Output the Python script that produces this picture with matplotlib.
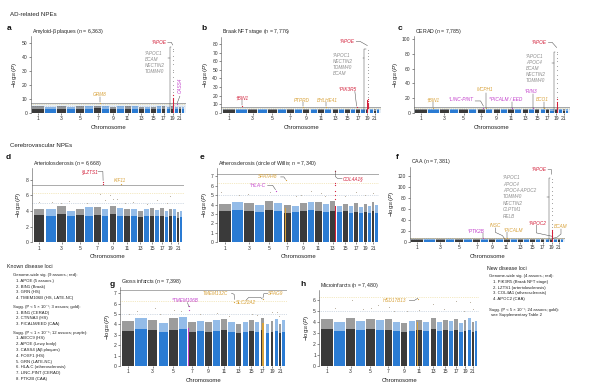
import numpy as np
import matplotlib.pyplot as plt

plt.rcParams['font.family'] = ['Liberation Sans', 'DejaVu Sans']
plt.rcParams['mathtext.fontset'] = 'custom'
plt.rcParams['mathtext.rm'] = 'Liberation Sans'
plt.rcParams['mathtext.it'] = 'Liberation Sans:italic'

W, H = 607, 384

# chromosome lengths (Mb), chr1..chr22
chrom_len = [249, 243, 198, 191, 181, 171, 159, 146, 141, 136, 135, 134,
             115, 107, 103, 90, 81, 78, 59, 63, 48, 51]
GAP = 25
starts = np.cumsum([0] + [l + GAP for l in chrom_len[:-1]])
centers = starts + np.array(chrom_len) / 2

# dense background of each chromosome: solid core and lighter fringe (-log10 P)
a_core = [3.2, 3.0, 3.1, 3.0, 3.2, 3.1, 3.3, 3.0, 3.1, 3.2, 3.0, 3.1, 3.0, 2.9, 3.0, 3.1, 3.0, 2.9, 3.0, 3.1, 2.8, 2.9]
a_fuzz = [4.8, 4.6, 4.9, 4.5, 5.0, 4.8, 5.2, 4.7, 4.6, 4.9, 4.7, 4.8, 4.5, 4.4, 4.6, 4.7, 4.9, 4.3, 5.0, 4.6, 4.2, 4.4]
b_core = [3.3, 3.2, 3.1, 3.2, 3.0, 3.3, 3.1, 3.2, 3.0, 3.1, 3.2, 3.1, 2.9, 3.0, 3.1, 3.0, 3.2, 2.9, 3.1, 3.0, 2.8, 2.9]
b_fuzz = [5.0, 5.2, 4.8, 4.9, 4.7, 5.1, 4.8, 4.9, 5.0, 4.7, 4.9, 5.1, 4.5, 4.6, 4.7, 4.5, 5.0, 4.4, 4.8, 4.6, 4.3, 4.4]
c_core = [3.2, 3.1, 3.3, 3.0, 3.1, 3.2, 3.2, 3.1, 3.0, 3.0, 3.3, 3.1, 3.0, 3.1, 3.0, 3.1, 3.0, 2.9, 3.1, 3.0, 2.9, 2.8]
c_fuzz = [5.1, 5.3, 4.9, 4.8, 5.0, 4.9, 5.4, 5.0, 4.8, 4.7, 5.2, 4.9, 4.6, 5.0, 4.7, 5.1, 4.8, 4.5, 4.9, 4.6, 4.4, 4.5]
d_core = [3.5, 3.4, 3.6, 3.3, 3.5, 3.4, 3.5, 3.4, 3.6, 3.4, 3.3, 3.4, 3.2, 3.3, 3.4, 3.3, 3.4, 3.2, 3.3, 3.3, 3.1, 3.2]
d_fuzz = [4.3, 4.2, 4.6, 4.0, 4.3, 4.5, 4.5, 4.3, 4.7, 4.4, 4.2, 4.3, 4.0, 4.2, 4.4, 4.1, 4.4, 4.0, 4.3, 4.2, 3.9, 4.0]
e_core = [3.3, 3.4, 3.3, 3.2, 3.4, 3.3, 3.1, 3.2, 3.3, 3.4, 3.3, 3.2, 3.3, 3.2, 3.3, 3.1, 3.2, 3.1, 3.2, 3.1, 3.3, 3.1]
e_fuzz = [4.1, 4.3, 4.2, 4.0, 4.4, 4.2, 4.0, 3.9, 4.2, 4.3, 4.3, 4.1, 4.4, 3.9, 4.1, 3.9, 4.2, 3.8, 4.1, 3.9, 4.3, 4.0]
f_core = [3.0, 2.9, 3.1, 2.8, 3.0, 2.9, 3.0, 3.0, 2.8, 2.9, 3.1, 3.0, 2.8, 2.9, 3.0, 2.8, 3.0, 2.7, 2.9, 2.8, 2.7, 2.8]
f_fuzz = [5.0, 4.8, 5.1, 4.6, 4.9, 4.8, 5.2, 5.0, 4.7, 4.8, 5.3, 5.0, 4.6, 4.8, 5.0, 4.7, 4.9, 4.5, 4.8, 4.6, 4.4, 4.5]
g_core = [3.4, 3.6, 3.5, 3.3, 3.5, 3.6, 3.3, 3.4, 3.3, 3.4, 3.5, 3.3, 3.2, 3.3, 3.4, 3.3, 3.5, 3.2, 3.3, 3.4, 3.2, 3.3]
g_fuzz = [4.3, 4.6, 4.4, 4.1, 4.6, 4.7, 4.2, 4.3, 4.2, 4.4, 4.5, 4.2, 4.0, 4.2, 4.4, 4.2, 4.6, 4.0, 4.3, 4.5, 4.0, 4.4]
h_core = [3.4, 3.2, 3.4, 3.3, 3.4, 3.3, 3.3, 3.2, 3.1, 3.2, 3.3, 3.2, 3.4, 3.2, 3.3, 3.2, 3.3, 3.1, 3.2, 3.3, 3.1, 3.2]
h_fuzz = [4.3, 4.0, 4.4, 4.1, 4.3, 4.2, 4.3, 4.0, 3.9, 4.1, 4.2, 4.0, 4.4, 4.0, 4.2, 4.1, 4.3, 3.9, 4.2, 4.4, 4.0, 4.1]

# stray SNPs above the dense part: (chromosome, position Mb, -log10 P)
d_pts = [(1, 120, 5.2), (2, 150, 5.1), (3, 90, 5.0), (4, 50, 5.3), (6, 30, 5.0), (7, 130, 6.2),
         (8, 60, 5.4), (9, 20, 6.0), (9, 90, 5.5), (10, 10, 5.6), (11, 30, 5.0), (12, 60, 5.2),
         (14, 70, 4.9), (16, 50, 5.4), (18, 40, 5.0), (19, 20, 5.9)]
e_pts = [(1, 40, 5.3), (2, 150, 5.0), (3, 70, 5.1), (5, 120, 5.4), (8, 90, 4.9), (9, 30, 5.0),
         (10, 60, 5.5), (11, 120, 5.2), (12, 40, 4.9), (15, 40, 4.9), (17, 40, 5.3), (19, 30, 5.0),
         (21, 20, 5.2)]
g_pts = [(1, 150, 5.0), (2, 40, 5.3), (3, 150, 5.6), (4, 30, 5.0), (5, 100, 5.4), (6, 40, 5.3),
         (8, 60, 5.0), (10, 90, 5.1), (12, 20, 4.8), (15, 60, 5.0), (16, 30, 4.9), (19, 20, 5.2),
         (20, 40, 5.2), (21, 10, 4.8)]
h_pts = [(2, 20, 5.3), (3, 120, 6.0), (4, 150, 5.2), (5, 100, 5.3), (6, 40, 5.5), (7, 90, 5.4),
         (8, 20, 5.0), (9, 130, 5.0), (11, 60, 5.1), (13, 60, 5.6), (15, 30, 5.2), (17, 50, 5.9),
         (19, 10, 5.0), (20, 60, 5.8), (21, 20, 5.2)]

# APOE region on chr19 (45 Mb): grey = neighbouring genes, red = APOE
a_apoe_grey = [45.5, 44, 41, 38, 35, 31, 29, 26, 23, 20, 17, 15]
a_apoe_red = [13, 11, 10, 9, 8, 7, 6.5, 6, 5.5]
b_apoe_grey = [73, 70, 66, 62, 57, 53, 50, 46, 42, 38, 34, 30, 26, 22, 18]
b_apoe_red = [16, 14, 12, 10, 9, 8, 7, 6]
c_apoe_grey = [83, 80, 75, 70, 64, 58, 52, 46, 40, 34, 28, 22]
c_apoe_red = [18, 15, 12, 10, 8, 7, 6]
f_apoe_grey = [114, 108, 100, 92, 85, 78, 70, 62, 55, 48, 40, 33, 26]
f_apoe_red = [22, 18, 15, 12, 10, 8, 6]

known_gw = ['APOE (5 assocs.)', 'BIN1 (Braak)', 'GRN (HS)', 'TMEM106B (HS, LATE-NC)']
known_gold = ['BIN1 (CERAD)', 'CTNNA3 (HS)', 'PICALM/EED (CAA)']
known_purple = ['ABCC9 (HS)', 'APOE (Lewy body)', 'CASS4 (Aβ plaques)', 'FOXF1 (HS)',
                'GRN (LATE-NC)', 'HLA-C (atherosclerosis)', 'LINC-PINT (CERAD)', 'PTK2B (CAA)']
new_gw = ['PIK3R5 (Braak NFT stage)', 'LZTS1 (arteriolosclerosis)',
          'COL4A1 (atherosclerosis)', 'APOC2 (CAA)']

DARK = '#3a3a3a'
BLUE = '#2a7bd3'
RED = '#d3223c'
GOLD = '#d8a23a'
PURPLE = '#c23fcb'
GREYTXT = '#8c8c8c'
LINE = '#4a4a4a'


def gx(ch, pos):
    return starts[ch - 1] + pos


def fig_box(l, t, r, b):
    return [l / W, 1 - b / H, (r - l) / W, (b - t) / H]


def ftext(x, y, s, **kw):
    fig.text(x / W, 1 - y / H, s, **kw)


def manhattan(box, core, fuzz, ylim, yticks, title, band=False, pts=()):
    ax = fig.add_axes(fig_box(*box))
    cols = [DARK if i % 2 == 0 else BLUE for i in range(22)]
    if band:
        ax.axhspan(0, 7.3, color='#e9eff5', lw=0, zorder=0)
    ax.bar(centers, fuzz, width=chrom_len, color=cols, alpha=0.5, linewidth=0, zorder=2)
    ax.bar(centers, core, width=chrom_len, color=cols, linewidth=0, zorder=2)
    ax.axhline(7.3, color='#8a8a8a', lw=0.5, zorder=1)
    ax.axhline(6.3, color='#e9d58a', lw=0.5, ls=':', zorder=1)
    ax.axhline(5.0, color='#a9b9cc', lw=0.5, ls=':', zorder=1)
    if pts:
        ax.scatter([gx(c, p) for c, p, v in pts], [v for c, p, v in pts],
                   s=0.5, color='#b9b0a0', lw=0, zorder=3)
    ax.set_xlim(-40, 3440)
    ax.set_ylim(*ylim)
    ax.set_yticks(yticks)
    ax.set_xticks(centers[::2])
    ax.set_xticklabels([str(i) for i in range(1, 23, 2)])
    for s in ['top', 'right', 'bottom']:
        ax.spines[s].set_visible(False)
    ax.spines['left'].set_linewidth(0.4)
    ax.spines['left'].set_color('#555555')
    ax.tick_params(labelsize=3.6, length=1.5, width=0.4, pad=1, colors='#333333')
    ax.set_xlabel('Chromosome', fontsize=4.3, labelpad=2.5, color='#222222')
    ax.set_ylabel(r'$-$log$_{10}$($P$)', fontsize=4.3, labelpad=1.5, color='#222222')
    ftext(box[0] + 1, box[1] - 5, title, fontsize=3.8, va='center', ha='left', color='#222222')
    return ax


def locus(ax, ch, pos, height, color, width=30):
    ax.bar([gx(ch, pos)], [height], width=width, color=color, linewidth=0, zorder=3)


def hits(ax, ch, pos, vals, color, s=0.8):
    ax.scatter([gx(ch, pos)] * len(vals), vals, s=s, color=color, lw=0, zorder=4)


def gene(ax, x, y, s, color, ha='center', va='center', rot=0, fs=3.4):
    ax.text(x, y, s, color=color, fontsize=fs, style='italic', ha=ha, va=va,
            rotation=rot, zorder=5)


def path(ax, xs, ys):
    ax.plot(xs, ys, color=LINE, lw=0.35, zorder=5)


def apoe_block(ax, grey, red, top_y, lab_x, lab_y, list_x, list_y, genes, tick_y, bar_h, ls=1.25):
    x19 = gx(19, 45)
    locus(ax, 19, 45, bar_h, RED, width=25)
    hits(ax, 19, 45, grey, '#9a9a9a', s=0.6)
    hits(ax, 19, 45, red, RED, s=0.8)
    bx = x19 - 75
    path(ax, [bx + 35, bx, bx], [top_y, top_y, 1.0])
    path(ax, [bx - 35, bx], [tick_y, tick_y])
    gene(ax, lab_x, lab_y, '*APOE', RED, ha='right')
    path(ax, [lab_x + 30, lab_x + 110, x19 - 10], [lab_y, lab_y, top_y + (lab_y - top_y) * 0.45])
    ax.text(list_x, list_y, genes, color=GREYTXT, fontsize=3.3, style='italic',
            ha='left', va='top', linespacing=ls, zorder=5)


fig = plt.figure(figsize=(W / 100, H / 100), dpi=100)

# section headers and panel letters
ftext(10, 15, 'AD-related NPEs', fontsize=4.4, va='center', color='#222222')
ftext(10, 145, 'Cerebrovascular NPEs', fontsize=4.4, va='center', color='#222222')
for letter, x, y in [('a', 7, 29), ('b', 201, 29), ('c', 398, 29), ('d', 6, 157),
                     ('e', 200, 157), ('f', 396, 157), ('g', 110, 284), ('h', 300, 284)]:
    ftext(x, y, letter, fontsize=6, fontweight='bold', va='center', color='#111111')

# a: amyloid-beta plaques
ax = manhattan((30.7, 36, 186, 113), a_core, a_fuzz, (0, 55), range(0, 51, 10),
               'Amyloid-β plaques ($n$ = 6,363)', band=True)
apoe_block(ax, a_apoe_grey, a_apoe_red, 47, 3000, 50.5, 2510, 44,
           '*APOC1\nBCAM\nNECTIN2\nTOMM40', 39, 9)
hits(ax, 7, 126, [7.5], GOLD)
gene(ax, gx(7, 126), 13.5, 'GRM8', GOLD)
path(ax, [gx(7, 126)] * 2, [11.5, 8])
hits(ax, 20, 50, [6.5], PURPLE)
gene(ax, gx(20, 50) + 75, 20, 'CASS4', PURPLE, rot=90)
path(ax, [gx(20, 50), gx(20, 50) + 60], [7, 12])

# b: Braak NFT stage
ax = manhattan((221.4, 37, 381, 113), b_core, b_fuzz, (0, 88), range(0, 81, 10),
               'Braak NFT stage ($n$ = 7,776)', band=True)
apoe_block(ax, b_apoe_grey, b_apoe_red, 74, 2870, 83, 2395, 70,
           '*APOC1\nNECTIN2\nTOMM40\nBCAM', 64, 15)
hits(ax, 2, 127, [8.5], RED)
gene(ax, gx(2, 127), 17.5, '†BIN1', RED)
path(ax, [gx(2, 127)] * 2, [14.5, 9])
hits(ax, 9, 10, [7.0], GOLD)
gene(ax, gx(9, 10) - 40, 15, 'PTPRD', GOLD)
path(ax, [gx(9, 10)] * 2, [12.5, 8])
hits(ax, 12, 26, [7.0], GOLD)
gene(ax, gx(12, 26) + 20, 15, 'BHLHE41', GOLD)
path(ax, [gx(12, 26)] * 2, [12.5, 8])
hits(ax, 17, 9, [7.5], RED)
gene(ax, 2720, 27, '*PIK3R5', RED)
path(ax, [2870, gx(17, 9)], [25, 8])

# c: CERAD
ax = manhattan((413.6, 36.4, 570, 112.7), c_core, c_fuzz, (0, 104), range(0, 101, 20),
               'CERAD ($n$ = 7,785)', band=True)
apoe_block(ax, c_apoe_grey, c_apoe_red, 83, 2930, 96, 2460, 80,
           '*APOC1\nAPOC4\nBCAM\nNECTIN2\nTOMM40', 68, 15)
hits(ax, 2, 127, [6.8], GOLD)
gene(ax, gx(2, 127), 17.5, '†BIN1', GOLD)
path(ax, [gx(2, 127)] * 2, [14, 8])
hits(ax, 7, 130, [6.0], PURPLE)
gene(ax, 1010, 17.5, '*LINC-PINT', PURPLE)
path(ax, [1330, 1450, gx(7, 130)], [16, 16, 9])
hits(ax, 8, 6, [6.6], GOLD)
gene(ax, gx(8, 6) - 20, 31, 'MCPH1', GOLD)
path(ax, [gx(8, 6)] * 2, [27, 6])
hits(ax, 11, 78, [6.0], PURPLE)
gene(ax, 2010, 17.5, '*PICALM / EED', PURPLE)
path(ax, [gx(11, 78)] * 2, [14, 7])
hits(ax, 14, 93, [6.0], PURPLE)
gene(ax, 2570, 29.5, '*RIN3', PURPLE)
path(ax, [gx(14, 93)] * 2, [25, 7])
hits(ax, 16, 81, [6.6], GOLD)
gene(ax, 2820, 17.5, 'BCO1', GOLD)
path(ax, [gx(16, 81)] * 2, [14, 7])

# d: arteriolosclerosis
ax = manhattan((31.8, 168, 184, 242.3), d_core, d_fuzz, (0, 9.5), range(0, 9, 2),
               'Arteriolosclerosis ($n$ = 6,668)', pts=d_pts)
hits(ax, 8, 22, [7.7, 7.4], RED)
gene(ax, 1460, 9.05, '§LZTS1', RED, ha='right')
path(ax, [1475, 1585, 1590], [9.05, 9.05, 7.9])
hits(ax, 10, 94, [7.45], GOLD)
gene(ax, gx(10, 94) - 15, 7.85, 'KIF11', GOLD)

# e: atherosclerosis
ax = manhattan((217.3, 168, 379.3, 242.3), e_core, e_fuzz, (0, 7.9), range(0, 8),
               'Atherosclerosis (circle of Willis; $n$ = 7,340)', pts=e_pts)
locus(ax, 7, 46, 3.6, GOLD)
locus(ax, 13, 110, 3.9, RED)
hits(ax, 13, 110, [7.6, 6.3, 6.1, 5.5, 5.0, 4.6], RED)
hits(ax, 7, 46, [6.6], GOLD)
hits(ax, 6, 31, [5.5], PURPLE)
gene(ax, 1030, 6.95, 'SPATA48', GOLD)
path(ax, [1320, 1390, 1425], [6.95, 6.95, 6.7])
gene(ax, 825, 6.05, '*HLA-C', PURPLE)
path(ax, [1040, 1150, 1210], [6.05, 6.05, 5.6])
gene(ax, 2650, 6.8, 'COL4A1§', RED, ha='left')
path(ax, [2494, 2494, 2540, 2640], [7.6, 7.0, 6.8, 6.8])

# f: CAA
ax = manhattan((409.7, 167, 565, 241.7), f_core, f_fuzz, (0, 136), range(0, 121, 20),
               'CAA ($n$ = 7,381)', band=True)
apoe_block(ax, f_apoe_grey, f_apoe_red, 116, 3030, 131, 2050, 121,
           '*APOC1\nAPOC4\nAPOC4-APOC2\nTOMM40\nNECTIN2\nCLPTM1\nRELB', 82, 22, ls=1.35)
hits(ax, 8, 27, [6.0], PURPLE)
gene(ax, 1440, 19, '*PTK2B', PURPLE)
path(ax, [gx(8, 27)] * 2, [15, 6])
hits(ax, 11, 15, [7.0], GOLD)
gene(ax, 1880, 29, 'INSC', GOLD)
path(ax, [1880, 1880, 2040, gx(11, 15)], [25, 17, 11, 6])
hits(ax, 11, 86, [6.8], GOLD)
gene(ax, 2280, 21, '*PICALM', GOLD)
path(ax, [gx(11, 86)] * 2, [17, 7])
gene(ax, 2820, 34, '*APOC2', RED)
path(ax, [2800, 2800, gx(19, 45) - 10], [30, 16, 10])
gene(ax, 3350, 27.5, 'BCAM', GOLD)
path(ax, [3350, 3350, 3260, gx(19, 45) + 10], [23, 14, 8, 6])

# g: gross infarcts
ax = manhattan((120, 287, 286.5, 366), g_core, g_fuzz, (0, 7.6), range(0, 8),
               'Gross infarcts ($n$ = 7,398)', pts=g_pts)
locus(ax, 7, 12, 3.7, PURPLE)
locus(ax, 17, 49, 4.1, GOLD)
hits(ax, 7, 12, [5.8, 5.4], PURPLE)
gene(ax, 1050, 6.3, '*TMEM106B', PURPLE, ha='left')
path(ax, [1370, 1400], [6.1, 5.7])
hits(ax, 12, 128, [6.2], GOLD)
gene(ax, 1940, 7.0, 'TMEM132C', GOLD)
path(ax, [2290, 2345, 2353], [7.0, 6.9, 6.4])
gene(ax, 2600, 6.1, 'SLC22A2', GOLD)
path(ax, [2600, 2650, 2900, 2931], [6.35, 6.6, 6.6, 6.45])
hits(ax, 17, 49, [6.4], GOLD)
gene(ax, 3060, 6.95, 'SPAG9', GOLD, ha='left')
path(ax, [3050, 2965, gx(17, 49)], [6.95, 6.95, 6.55])

# h: microinfarcts
ax = manhattan((319.4, 290, 479, 366), h_core, h_fuzz, (0, 6.9), range(0, 7),
               'Microinfarcts ($n$ = 7,480)', pts=h_pts)
locus(ax, 11, 40, 4.0, GOLD)
hits(ax, 11, 40, [6.1], GOLD)
gene(ax, 1610, 5.95, 'HSD17B13', GOLD)
path(ax, [1920, 2030, gx(11, 40)], [5.95, 5.95, 6.15])

# text lists
TXT = dict(fontsize=3.1, va='center', ha='left', color='#222222')
ftext(7, 266, 'Known disease loci', fontsize=3.8, va='center', ha='left', color='#222222')
y = 275
ftext(13, y, 'Genome-wide sig. (9 assocs.; red):', **TXT)
for i, s in enumerate(known_gw):
    y += 5.8
    ftext(16, y, f'{i + 1}. {s}', **TXT)
y += 8.5
ftext(13, y, 'Sugg. (P < 5 × 10⁻⁷; 3 assocs; gold):', **TXT)
for i, s in enumerate(known_gold):
    y += 5.8
    ftext(16, y, f'{i + 1}. {s}', **TXT)
y += 8.5
ftext(13, y, 'Sugg. (P < 1 × 10⁻⁵; 12 assocs; purple):', **TXT)
for i, s in enumerate(known_purple):
    y += 5.8
    ftext(16, y, f'{i + 1}. {s}', **TXT)

ftext(487, 268, 'New disease loci', fontsize=3.8, va='center', ha='left', color='#222222')
y = 276
ftext(489, y, 'Genome-wide sig. (4 assocs.; red):', **TXT)
for i, s in enumerate(new_gw):
    y += 5.8
    ftext(493, y, f'{i + 1}. {s}', **TXT)
ftext(489, 309.5, 'Sugg. (P < 5 × 10⁻⁷; 24 assocs; gold):', **TXT)
ftext(491, 315.3, 'see Supplementary Table 2', **TXT)

fig.savefig('out.png', dpi=100)
